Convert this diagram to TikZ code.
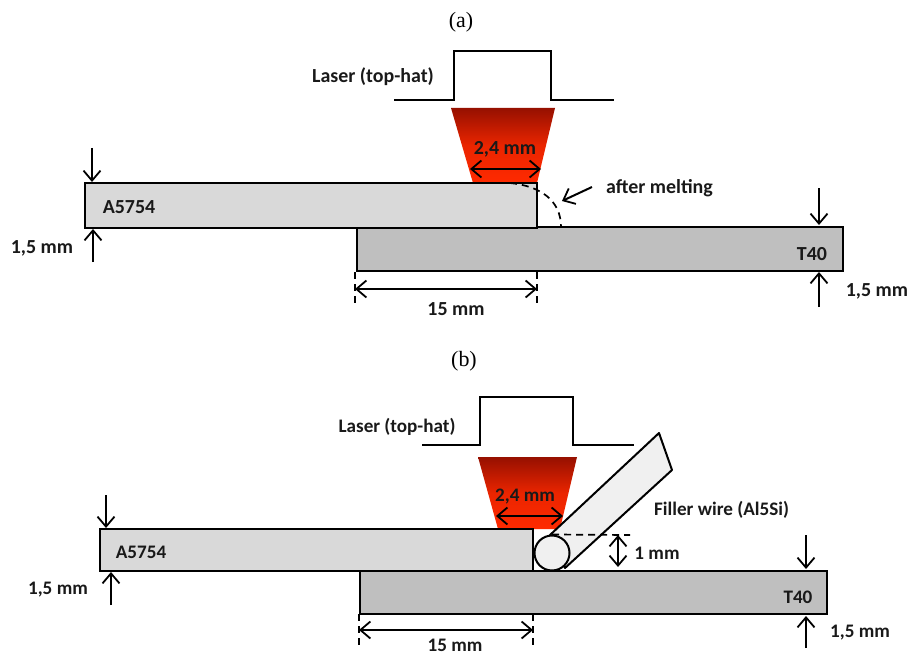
\documentclass[tikz,border=0pt]{standalone}
\usepackage{fontspec}
\setmainfont{Liberation Serif}
\newfontfamily\lbl{Carlito}
\usetikzlibrary{arrows.meta}
\definecolor{lightplate}{RGB}{217,217,217}
\definecolor{darkplate}{RGB}{191,191,191}
\definecolor{beamtop}{RGB}{150,16,0}
\definecolor{beambot}{RGB}{255,42,0}
\definecolor{wirefill}{RGB}{240,240,240}
\tikzset{
  plate/.style={draw=black,line width=2bp,rectangle,inner sep=0pt,outer sep=0pt,anchor=north west},
  lab/.style={font=\lbl\bfseries\fontsize{20}{22}\selectfont,inner sep=0pt,text=black!90},
  labb/.style={font=\lbl\bfseries\fontsize{19.2}{21}\selectfont,inner sep=0pt,text=black!90},
  captext/.style={font=\fontsize{22}{24}\selectfont,inner sep=0pt},
  arr/.style={line width=2bp,-{Straight Barb[length=10bp,width=17bp,line width=1.8bp]}},
  darr/.style={line width=2bp,{Straight Barb[length=10bp,width=17bp,line width=1.8bp]}-{Straight Barb[length=10bp,width=17bp,line width=1.8bp]}},
  pulse/.style={line width=2bp},
  guide/.style={line width=1.7bp,dash pattern=on 7bp off 5bp}
}
\begin{document}
\begin{tikzpicture}[x=1bp,y=-1bp]
\useasboundingbox (0,0) rectangle (909,655);
% ---------- (a)
\node[captext] (capa) at (461,22) {(a)};
\draw[pulse] (394,100) -- (454,100) -- (454,51) -- (551,51) -- (551,100) -- (614,100);
\node[lab] (lasera) at (373,77) {Laser (top-hat)};
\shade[top color=beamtop,bottom color=beambot,middle color=beambot!80!beamtop] (451,108) -- (555,108) -- (537,183) -- (473,183) -- cycle;
\node[plate,fill=darkplate,minimum width=486bp,minimum height=44bp] (t40a) at (357,227) {};
\node[plate,fill=lightplate,minimum width=452bp,minimum height=45bp] (ala) at (85,183) {};
\node[lab] (ala-t) at (129,207) {A5754};
\node[lab] (t40a-t) at (812,254) {T40};
\node[lab] (wa) at (505,149) {2,4 mm};
\coordinate (wal) at (470,169); \coordinate (war) at (541,169);
\draw[darr] (wal) -- (war);
\coordinate (m1) at (510,183); \coordinate (m2) at (561,227);
\draw[guide] (m1) .. controls (540,186) and (561,200) .. (m2);
\node[lab,anchor=west] (melt) at (606,188) {after melting};
\coordinate (mt) at (592,187); \coordinate (mh) at (562,201);
\draw[arr] (mt) -- (mh);
% thickness
\coordinate (a1) at (92,148); \coordinate (a1h) at (92,182);
\coordinate (a2) at (93,262); \coordinate (a2h) at (93,229);
\draw[arr] (a1) -- (a1h);
\draw[arr] (a2) -- (a2h);
\node[lab] (tha) at (42,248) {1,5 mm};
\coordinate (a3) at (819,188); \coordinate (a3h) at (819,225);
\coordinate (a4) at (819,307); \coordinate (a4h) at (819,272);
\draw[arr] (a3) -- (a3h);
\draw[arr] (a4) -- (a4h);
\node[lab] (thb) at (877,291) {1,5 mm};
% overlap
\coordinate (d1t) at (355,272); \coordinate (d1b) at (355,306);
\coordinate (d2t) at (537,272); \coordinate (d2b) at (537,306);
\draw[guide] (d1t) -- (d1b);
\draw[guide] (d2t) -- (d2b);
\draw[darr] (355,289) -- (537,289);
\node[lab] (ova) at (456,309) {15 mm};
% ---------- (b)
\node[captext] (capb) at (464,361) {(b)};
\draw[pulse] (422,445) -- (480,445) -- (480,397) -- (573,397) -- (573,445) -- (634,445);
\node[labb] (laserb) at (397,427) {Laser (top-hat)};
\shade[top color=beamtop,bottom color=beambot,middle color=beambot!80!beamtop] (478,457) -- (577,457) -- (560,529) -- (498,529) -- cycle;
\node[plate,fill=darkplate,minimum width=467bp,minimum height=43bp] (t40b) at (360,571) {};
\node[plate,fill=lightplate,minimum width=433bp,minimum height=42bp] (alb) at (100,529) {};
\node[labb] (alb-t) at (141,552) {A5754};
\node[labb] (t40b-t) at (798,597) {T40};
\node[labb] (wb) at (525,497) {2,4 mm};
\draw[darr] (496,516) -- (563,516);
% wire
\draw[line width=2bp,fill=wirefill,line join=round] (550,535) -- (659,433) -- (672,470) -- (565,568) -- cycle;
\node[circle,draw=black,line width=2bp,fill=wirefill,minimum size=35bp,inner sep=0pt] (wire) at (552,553) {};
\node[labb,anchor=west] (fw) at (654,510) {Filler wire (Al5Si)};
\coordinate (de) at (630,535);
\draw[guide] (wire.north) -- (de);
\coordinate (e1) at (618,535); \coordinate (e2) at (618,567);
\draw[darr] (e1) -- (e2);
\node[labb] (mm1) at (657,553) {1 mm};
% thickness
\draw[arr] (106,495) -- (106,528);
\draw[arr] (111,605) -- (111,572);
\node[labb] (thc) at (58,590) {1,5 mm};
\draw[arr] (806,535) -- (806,569);
\draw[arr] (806,648) -- (806,616);
\node[labb] (thd) at (860,633) {1,5 mm};
% overlap
\draw[guide] (359,614) -- (359,646);
\draw[guide] (533,614) -- (533,648);
\draw[darr] (359,630) -- (533,630);
\node[labb] (ovb) at (455,645) {15 mm};
\end{tikzpicture}
\end{document}
